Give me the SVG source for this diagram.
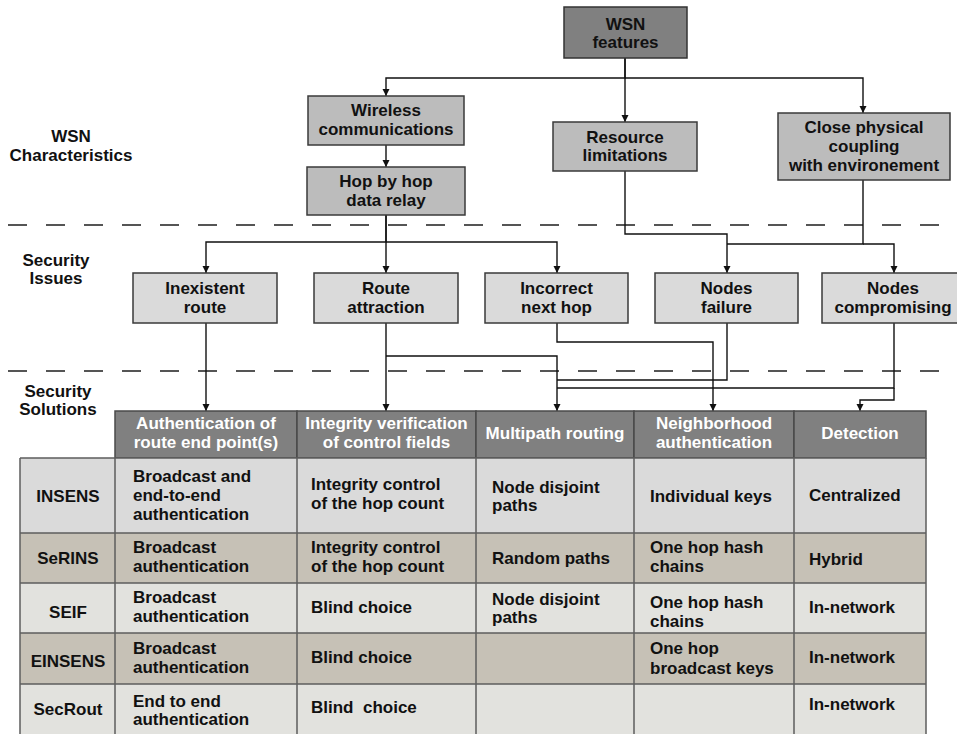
<svg xmlns="http://www.w3.org/2000/svg" width="957" height="734" viewBox="0 0 957 734">
<defs>
<marker id="ah" markerWidth="8" markerHeight="8" refX="7" refY="3.5" orient="auto" markerUnits="userSpaceOnUse">
<path d="M0,0 L7,3.5 L0,7 z" fill="#111"/>
</marker>
<style>
text{font-family:"Liberation Sans",Arial,sans-serif;font-weight:bold;font-size:17px;fill:#111}
.c{text-anchor:middle}
.w{fill:#fff}
.top{fill:#808080;stroke:#333;stroke-width:1.5}
.mid{fill:#bcbcbc;stroke:#3a3a3a;stroke-width:1.5}
.iss{fill:#dadada;stroke:#3a3a3a;stroke-width:1.5}
.dash{stroke:#555;stroke-width:2;stroke-dasharray:19 19;fill:none}
.con path{fill:none;stroke:#111;stroke-width:1.4}
.hd{fill:#808080;stroke:#4a4a4a;stroke-width:1.5}
.r1{fill:#dadada}
.r2{fill:#c6c1b6}
.r3{fill:#e2e2de}
.grid{stroke:#5e5e5e;stroke-width:1.5;fill:none}
</style>
</defs>
<rect width="957" height="734" fill="#fff"/>

<!-- section labels -->
<g id="labels">
<text class="c" x="71" y="142">WSN</text>
<text class="c" x="71" y="161">Characteristics</text>
<text class="c" x="56" y="266">Security</text>
<text class="c" x="56" y="284">Issues</text>
<text class="c" x="58" y="397">Security</text>
<text class="c" x="58" y="415">Solutions</text>
</g>

<line class="dash" x1="8" y1="225" x2="957" y2="225"/>
<line class="dash" x1="8" y1="371" x2="957" y2="371"/>

<!-- connectors -->
<g id="connectors" class="con">
<path d="M625,58 V78 H386 V96" marker-end="url(#ah)"/>
<path d="M625,58 V122" marker-end="url(#ah)"/>
<path d="M625,78 H863 V113" marker-end="url(#ah)"/>
<path d="M386,145 V167" marker-end="url(#ah)"/>
<path d="M386,215 V242 H206 V273" marker-end="url(#ah)"/>
<path d="M386,215 V273" marker-end="url(#ah)"/>
<path d="M386,242 H557 V273" marker-end="url(#ah)"/>
<path d="M625,171 V234 H727 V273" marker-end="url(#ah)"/>
<path d="M863,180 V244 H727"/>
<path d="M863,244 H894 V273" marker-end="url(#ah)"/>
<path d="M206,323 V411" marker-end="url(#ah)"/>
<path d="M386,323 V411" marker-end="url(#ah)"/>
<path d="M386,356 H557 V411" marker-end="url(#ah)"/>
<path d="M557,323 V342 H713 V411" marker-end="url(#ah)"/>
<path d="M727,323 V380 H557"/>
<path d="M894,323 V388 H557"/>
<path d="M894,388 V400 H860 V411" marker-end="url(#ah)"/>
</g>

<!-- WSN characteristics -->
<g id="wsn-features">
<rect class="top" x="564" y="7" width="123" height="51"/>
<text class="c" x="625.5" y="30">WSN</text>
<text class="c" x="625.5" y="48">features</text>
</g>
<g id="wireless">
<rect class="mid" x="308" y="96" width="156" height="49"/>
<text class="c" x="386" y="116">Wireless</text>
<text class="c" x="386" y="135">communications</text>
</g>
<g id="hop">
<rect class="mid" x="307" y="167" width="158" height="48"/>
<text class="c" x="386" y="187">Hop by hop</text>
<text class="c" x="386" y="206">data relay</text>
</g>
<g id="resource">
<rect class="mid" x="553" y="122" width="144" height="49"/>
<text class="c" x="625" y="143">Resource</text>
<text class="c" x="625" y="161">limitations</text>
</g>
<g id="coupling">
<rect class="mid" x="778" y="113" width="172" height="67"/>
<text class="c" x="864" y="133">Close physical</text>
<text class="c" x="864" y="152">coupling</text>
<text class="c" x="864" y="171">with environement</text>
</g>

<!-- Security issues -->
<g id="inexistent">
<rect class="iss" x="133" y="273" width="144" height="50"/>
<text class="c" x="205" y="294">Inexistent</text>
<text class="c" x="205" y="313">route</text>
</g>
<g id="route-attraction">
<rect class="iss" x="314" y="273" width="144" height="50"/>
<text class="c" x="386" y="294">Route</text>
<text class="c" x="386" y="313">attraction</text>
</g>
<g id="incorrect">
<rect class="iss" x="485" y="273" width="143" height="50"/>
<text class="c" x="556.5" y="294">Incorrect</text>
<text class="c" x="556.5" y="313">next hop</text>
</g>
<g id="failure">
<rect class="iss" x="655" y="273" width="143" height="50"/>
<text class="c" x="726.5" y="294">Nodes</text>
<text class="c" x="726.5" y="313">failure</text>
</g>
<g id="compromising">
<rect class="iss" x="822" y="273" width="143" height="50"/>
<text class="c" x="893" y="294">Nodes</text>
<text class="c" x="893" y="313">compromising</text>
</g>

<!-- Table -->
<g id="table">
<rect class="hd" x="115" y="411" width="182" height="47"/>
<rect class="hd" x="297" y="411" width="179" height="47"/>
<rect class="hd" x="476" y="411" width="158" height="47"/>
<rect class="hd" x="634" y="411" width="160" height="47"/>
<rect class="hd" x="794" y="411" width="132" height="47"/>
<text class="c w" x="206" y="429">Authentication of</text>
<text class="c w" x="206" y="448">route end point(s)</text>
<text class="c w" x="386.5" y="429">Integrity verification</text>
<text class="c w" x="386.5" y="448">of control fields</text>
<text class="c w" x="555" y="439">Multipath routing</text>
<text class="c w" x="714" y="429">Neighborhood</text>
<text class="c w" x="714" y="448">authentication</text>
<text class="c w" x="860" y="439">Detection</text>

<rect class="r1" x="20" y="458" width="906" height="75"/>
<rect class="r2" x="20" y="533" width="906" height="50"/>
<rect class="r3" x="20" y="583" width="906" height="50"/>
<rect class="r2" x="20" y="633" width="906" height="51"/>
<rect class="r3" x="20" y="684" width="906" height="50"/>
<path class="grid" d="M20,458 H926 M20,533 H926 M20,583 H926 M20,633 H926 M20,684 H926 M20,458 V734 M115,458 V734 M297,458 V734 M476,458 V734 M634,458 V734 M794,458 V734 M926,458 V734"/>

<text class="c" x="68" y="502">INSENS</text>
<text x="133" y="482">Broadcast and</text>
<text x="133" y="501">end-to-end</text>
<text x="133" y="520">authentication</text>
<text x="311" y="490">Integrity control</text>
<text x="311" y="509">of the hop count</text>
<text x="492" y="493">Node disjoint</text>
<text x="492" y="511">paths</text>
<text x="650" y="502">Individual keys</text>
<text x="809" y="501">Centralized</text>

<text class="c" x="68" y="564">SeRINS</text>
<text x="133" y="553">Broadcast</text>
<text x="133" y="572">authentication</text>
<text x="311" y="553">Integrity control</text>
<text x="311" y="572">of the hop count</text>
<text x="492" y="564">Random paths</text>
<text x="650" y="553">One hop hash</text>
<text x="650" y="572">chains</text>
<text x="809" y="565">Hybrid</text>

<text class="c" x="68" y="618">SEIF</text>
<text x="133" y="603">Broadcast</text>
<text x="133" y="622">authentication</text>
<text x="311" y="613">Blind choice</text>
<text x="492" y="605">Node disjoint</text>
<text x="492" y="623">paths</text>
<text x="650" y="608">One hop hash</text>
<text x="650" y="627">chains</text>
<text x="809" y="613">In-network</text>

<text class="c" x="68" y="667">EINSENS</text>
<text x="133" y="654">Broadcast</text>
<text x="133" y="673">authentication</text>
<text x="311" y="663">Blind choice</text>
<text x="650" y="654">One hop</text>
<text x="650" y="674">broadcast keys</text>
<text x="809" y="663">In-network</text>

<text class="c" x="68" y="715">SecRout</text>
<text x="133" y="707">End to end</text>
<text x="133" y="725">authentication</text>
<text x="311" y="713" xml:space="preserve">Blind  choice</text>
<text x="809" y="710">In-network</text>
</g>
</svg>
